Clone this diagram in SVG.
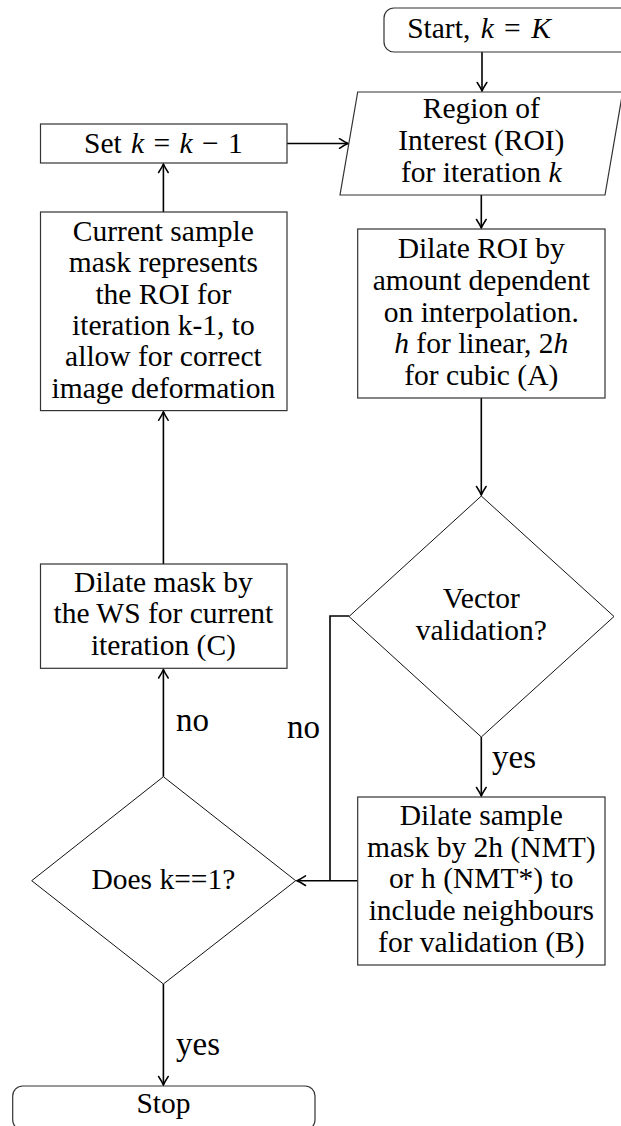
<svg xmlns="http://www.w3.org/2000/svg" width="621" height="1126" viewBox="0 0 621 1126">
  <style>
    .box { fill: #ffffff; stroke: #333333; stroke-width: 1.2; }
    .dia { fill: #ffffff; stroke: #111111; stroke-width: 1; }
    .t { font-size: 29.5px; fill: #000; text-anchor: middle; }
    .lbl { font-size: 33px; fill: #000; }
    .i { font-style: italic; }
    .c { fill: none; stroke: #000; stroke-width: 1.6; }
  </style>
  <defs>
    <marker id="arr" markerUnits="userSpaceOnUse" viewBox="-11 -7 13 14" refX="0" refY="0" markerWidth="13" markerHeight="14" orient="auto">
      <path d="M-8.5,-4.8 Q-3,-1.2 0,0 Q-3,1.2 -8.5,4.8" fill="none" stroke="#000" stroke-width="1.5" stroke-linecap="round"/>
    </marker>
  </defs>

  <g id="connectors" font-family="'Liberation Serif', 'DejaVu Serif', serif">
    <line class="c" x1="482" y1="52" x2="482" y2="91" marker-end="url(#arr)"/>
    <line class="c" x1="481.3" y1="195" x2="481.3" y2="228" marker-end="url(#arr)"/>
    <line class="c" x1="481.3" y1="398" x2="481.3" y2="495" marker-end="url(#arr)"/>
    <line class="c" x1="481.3" y1="737" x2="481.3" y2="796" marker-end="url(#arr)"/>
    <polyline class="c" points="349,616 330,616 330,880.7"/>
    <line class="c" x1="357.7" y1="880.7" x2="297" y2="880.7" marker-end="url(#arr)"/>
    <line class="c" x1="163.4" y1="776.7" x2="163.4" y2="669.5" marker-end="url(#arr)"/>
    <line class="c" x1="163.4" y1="564" x2="163.4" y2="411.8" marker-end="url(#arr)"/>
    <line class="c" x1="163.4" y1="212" x2="163.4" y2="164" marker-end="url(#arr)"/>
    <line class="c" x1="287" y1="143.5" x2="348" y2="143.5" marker-end="url(#arr)"/>
    <line class="c" x1="163.4" y1="984" x2="163.4" y2="1085" marker-end="url(#arr)"/>
    <text class="lbl" x="492" y="768">yes</text>
    <text class="lbl" x="287" y="738">no</text>
    <text class="lbl" x="176" y="731">no</text>
    <text class="lbl" x="176" y="1055">yes</text>
  </g>

  <g font-family="'Liberation Serif', 'DejaVu Serif', serif">
  <g id="start">
    <rect class="box" x="384" y="8" width="280" height="44" rx="10" ry="10"/>
    <text class="t" x="479" y="38" word-spacing="3">Start, <tspan class="i">k</tspan> = <tspan class="i">K</tspan></text>
  </g>

  <g id="roi">
    <polygon class="box" points="357.7,92 622.7,92 605,195 340,195"/>
    <text class="t" x="481.3" y="118.3">Region of</text>
    <text class="t" x="481.3" y="150">Interest (ROI)</text>
    <text class="t" x="481.3" y="181.7">for iteration <tspan class="i">k</tspan></text>
  </g>

  <g id="set-k">
    <rect class="box" x="40.5" y="124" width="246.5" height="39"/>
    <text class="t" x="163.4" y="153.3" word-spacing="2">Set <tspan class="i">k</tspan> = <tspan class="i">k</tspan> − 1</text>
  </g>

  <g id="current-sample">
    <rect class="box" x="40.5" y="212" width="246.5" height="198.6"/>
    <text class="t" x="163.4" y="241">Current sample</text>
    <text class="t" x="163.4" y="272.3">mask represents</text>
    <text class="t" x="163.4" y="303.6">the ROI for</text>
    <text class="t" x="163.4" y="335">iteration k-1, to</text>
    <text class="t" x="163.4" y="366.3">allow for correct</text>
    <text class="t" x="163.4" y="397.6">image deformation</text>
  </g>

  <g id="dilate-roi">
    <rect class="box" x="357.7" y="229" width="247.3" height="169"/>
    <text class="t" x="481.3" y="258.3">Dilate ROI by</text>
    <text class="t" x="481.3" y="290">amount dependent</text>
    <text class="t" x="481.3" y="321.7">on interpolation.</text>
    <text class="t" x="481.3" y="353.3"><tspan class="i">h</tspan> for linear, 2<tspan class="i">h</tspan></text>
    <text class="t" x="481.3" y="385">for cubic (A)</text>
  </g>

  <g id="vector-validation">
    <polygon class="dia" points="481.3,496 614,616.5 481.3,737 349,616.5"/>
    <text class="t" x="481.3" y="608.3">Vector</text>
    <text class="t" x="481.3" y="640">validation?</text>
  </g>

  <g id="dilate-mask">
    <rect class="box" x="40.5" y="564" width="246.5" height="104.3"/>
    <text class="t" x="163.4" y="591.7">Dilate mask by</text>
    <text class="t" x="163.4" y="623.3">the WS for current</text>
    <text class="t" x="163.4" y="655">iteration (C)</text>
  </g>

  <g id="dilate-sample">
    <rect class="box" x="357.7" y="797" width="247.3" height="168"/>
    <text class="t" x="481.3" y="825">Dilate sample</text>
    <text class="t" x="481.3" y="856.7">mask by 2h (NMT)</text>
    <text class="t" x="481.3" y="888.3">or h (NMT*) to</text>
    <text class="t" x="481.3" y="920">include neighbours</text>
    <text class="t" x="481.3" y="951.7">for validation (B)</text>
  </g>

  <g id="does-k1">
    <polygon class="dia" points="163.4,776.7 295.7,880.7 163.4,984 31.7,880.7"/>
    <text class="t" x="163.4" y="889.3">Does k==1?</text>
  </g>

  <g id="stop">
    <rect class="box" x="12.7" y="1086" width="302.3" height="44" rx="10" ry="10"/>
    <text class="t" x="163.5" y="1113">Stop</text>
  </g>
  </g>
</svg>
